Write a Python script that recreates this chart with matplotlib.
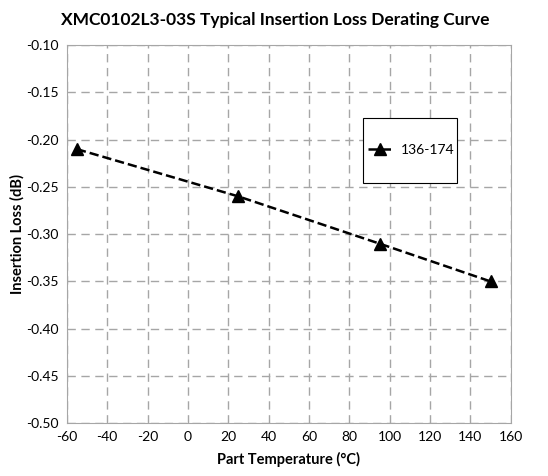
import matplotlib.pyplot as plt
from matplotlib.patches import Rectangle

plt.rcParams['font.family'] = ['Lato', 'DejaVu Sans']
plt.rcParams['axes.unicode_minus'] = False

temps = [-55, 25, 95, 150]
loss = [-0.21, -0.26, -0.31, -0.35]
series_label = "136-174"

xticks = list(range(-60, 161, 20))
yticks = [-0.50, -0.45, -0.40, -0.35, -0.30, -0.25, -0.20, -0.15, -0.10]

fig = plt.figure(figsize=(5.48, 4.76), dpi=100)
ax = fig.add_axes([0.122, 0.111, 0.81, 0.794])

ax.plot(temps, loss, color="black", linestyle="--", linewidth=1.8,
        marker="^", markersize=9, label=series_label, zorder=3)

ax.set_xlim(-60, 160)
ax.set_ylim(-0.50, -0.10)
ax.set_xticks(xticks)
ax.set_yticks(yticks)
ax.set_yticklabels([f"{v:.2f}" for v in yticks])
ax.tick_params(length=0, labelsize=10, pad=6)
ax.grid(True, color="#a6a6a6", linestyle=(0, (6, 4)), linewidth=1)
for s in ax.spines.values():
    s.set_color("#a6a6a6")

ax.set_xlabel("Part Temperature (°C)", fontsize=10.5, fontweight="bold", labelpad=6)
ax.set_ylabel("Insertion Loss (dB)", fontsize=10.5, fontweight="bold", labelpad=1)
fig.suptitle("XMC0102L3-03S Typical Insertion Loss Derating Curve",
             fontsize=12.5, fontweight="bold", x=0.502, y=0.975)

# legend box drawn separately so its padding can match the reference
ax.add_patch(Rectangle((0.667, 0.635), 0.212, 0.172, transform=ax.transAxes,
                       facecolor="white", edgecolor="black", linewidth=0.8, zorder=4))
leg = ax.legend(loc="center", bbox_to_anchor=(0.776, 0.722), frameon=False,
                fontsize=10, borderpad=0, handlelength=1.8, handletextpad=0.6,
                borderaxespad=0)
leg.set_zorder(5)

fig.savefig("out.png", dpi=100)
